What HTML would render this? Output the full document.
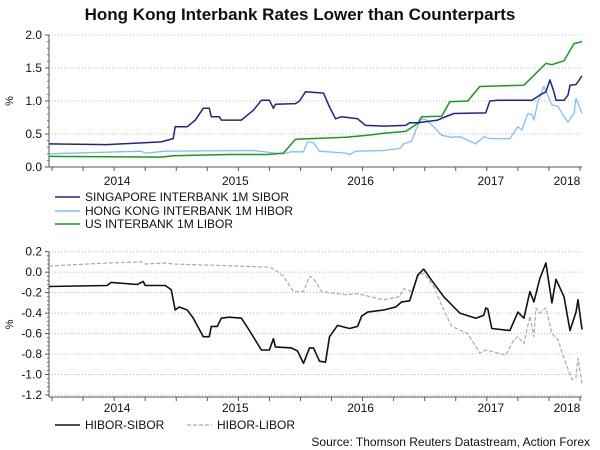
<!DOCTYPE html>
<html><head><meta charset="utf-8"><style>
body{margin:0;background:#fff}
svg{display:block;font-family:"Liberation Sans",Arial,sans-serif}
</style></head><body>
<svg id="c" width="600" height="450" viewBox="0 0 600 450" xmlns="http://www.w3.org/2000/svg">
<text x="300" y="20" text-anchor="middle" font-size="17" font-weight="bold" fill="#111">Hong Kong Interbank Rates Lower than Counterparts</text>
<g id="top"></g>
<g id="bot"></g>
<g font-size="12" fill="#111">
<line x1="55" y1="197" x2="80" y2="197" stroke="#23238e" stroke-width="1.5"/>
<text x="85" y="201">SINGAPORE INTERBANK 1M SIBOR</text>
<line x1="55" y1="211" x2="80" y2="211" stroke="#7fbfff" stroke-width="1.5"/>
<text x="85" y="215">HONG KONG INTERBANK 1M HIBOR</text>
<line x1="55" y1="224" x2="80" y2="224" stroke="#1a9a1a" stroke-width="1.5"/>
<text x="85" y="228">US INTERBANK 1M LIBOR</text>
</g>
<g font-size="12" fill="#111">
<line x1="55" y1="425" x2="80" y2="425" stroke="#111" stroke-width="1.5"/>
<text x="85" y="429">HIBOR-SIBOR</text>
<line x1="187" y1="425" x2="212" y2="425" stroke="#aaa" stroke-width="1.2" stroke-dasharray="4,2"/>
<text x="217" y="429">HIBOR-LIBOR</text>
</g>
<text x="590" y="446" text-anchor="end" font-size="12" fill="#111">Source: Thomson Reuters Datastream, Action Forex</text>
</svg>
<script>
const yearLabels=["2014","2015","2016","2017","2018"];
const yearWeeks=[34,93,155.5,220.5,258.5];
const topTicks=[0,0.5,1.0,1.5,2.0];
const topTickLabels=["0.0","0.5","1.0","1.5","2.0"];
const botTicks=[0.2,0,-0.2,-0.4,-0.6,-0.8,-1.0,-1.2];
const botTickLabels=["0.2","0.0","-0.2","-0.4","-0.6","-0.8","-1.0","-1.2"];
const siborW=[0,29,56,62,63,69,73,77,80,81,85,86,96,102,106,110,112,113,123,125,128,137,140,143,146,154,158,167,178,180,184,194,197,202,218,220,224,241,245,248,250,252,253,257,259,260,263,266];
const siborV=[0.35,0.34,0.38,0.43,0.61,0.61,0.71,0.89,0.89,0.76,0.76,0.71,0.71,0.86,1.01,1.01,0.89,0.95,0.96,1.0,1.14,1.12,0.91,0.73,0.76,0.73,0.63,0.62,0.63,0.67,0.67,0.71,0.75,0.81,0.82,1.0,1.01,1.01,1.09,1.14,1.32,1.14,1.01,1.01,1.09,1.24,1.25,1.38];
const hiborW=[0,46,48,58,102,113,117,121,127,129,132,135,148,150,153,167,175,177,181,183,186,188,192,196,201,205,213,217,220,230,234,236,239,241,242,244,247,251,254,257,259,262,263,266];
const hiborV=[0.2,0.24,0.21,0.24,0.25,0.21,0.2,0.23,0.23,0.38,0.37,0.24,0.21,0.19,0.24,0.25,0.28,0.35,0.39,0.56,0.73,0.72,0.61,0.48,0.45,0.46,0.35,0.46,0.43,0.43,0.61,0.56,0.81,0.79,0.71,0.99,1.22,0.94,0.92,0.76,0.68,0.81,1.04,0.81];
const liborW=[0,56,62,90,109,117,123,148,159,167,178,184,186,196,200,209,215,237,243,248,251,257,262,266];
const liborV=[0.16,0.15,0.17,0.19,0.19,0.21,0.42,0.45,0.48,0.51,0.54,0.66,0.76,0.77,0.99,1.0,1.22,1.24,1.42,1.57,1.55,1.61,1.87,1.9];
const hsW=[0,29,31,44,47,48,58,61,63,65,69,72,77,80,81,84,86,90,96,100,106,110,112,113,121,124,127,130,132,135,138,140,144,150,154,156,159,167,173,176,180,184,187,191,197,202,205,213,217,218,219,221,230,234,237,240,242,245,248,251,253,257,260,263,264,266];
const hsV=[-0.14,-0.13,-0.10,-0.12,-0.09,-0.13,-0.13,-0.17,-0.37,-0.34,-0.37,-0.45,-0.63,-0.63,-0.53,-0.53,-0.45,-0.44,-0.45,-0.57,-0.76,-0.76,-0.65,-0.73,-0.74,-0.77,-0.89,-0.74,-0.74,-0.87,-0.88,-0.63,-0.52,-0.55,-0.53,-0.43,-0.39,-0.37,-0.34,-0.29,-0.28,-0.03,0.03,-0.08,-0.24,-0.34,-0.40,-0.45,-0.42,-0.35,-0.36,-0.55,-0.57,-0.39,-0.45,-0.19,-0.29,-0.06,0.09,-0.30,-0.07,-0.24,-0.57,-0.39,-0.27,-0.56];
const hlW=[0,29,46,48,58,62,110,113,117,122,127,130,132,136,148,154,167,175,177,181,184,187,192,197,201,209,215,218,228,232,234,237,240,242,243,245,248,251,254,257,261,263,264,266];
const hlV=[0.06,0.09,0.10,0.08,0.09,0.08,0.05,0.02,-0.04,-0.19,-0.19,-0.04,-0.06,-0.19,-0.22,-0.21,-0.27,-0.24,-0.16,-0.19,-0.04,-0.01,-0.14,-0.37,-0.53,-0.60,-0.79,-0.76,-0.81,-0.66,-0.63,-0.70,-0.43,-0.63,-0.35,-0.40,-0.35,-0.60,-0.66,-0.84,-1.05,-1.03,-0.84,-1.09];

const NS="http://www.w3.org/2000/svg";
const X0=49,X1=582,WMAX=266;
const xs=w=>X0+(w/WMAX)*(X1-X0);
const topY=v=>167-(v/2)*132;
const botY=v=>251.7+((0.2-v)/1.4)*143.3;
function mk(tag,attrs,parent){const e=document.createElementNS(NS,tag);for(const k in attrs)e.setAttribute(k,attrs[k]);parent.appendChild(e);return e;}
function panel(g,ys,ticks,labels,axisY,topGrid,labelY,name){
  ticks.forEach((t,i)=>{
    const gl=mk('line',{x1:X0,x2:X1,y1:ys(t),y2:ys(t),stroke:'#bbb','stroke-dasharray':'1,2'},g);
    
    
    const tx=mk('text',{x:X0-7,y:ys(t)+4,'text-anchor':'end','font-size':'12',fill:'#111'},g);
    tx.textContent=labels[i];
    
    
    mk('line',{x1:X0-4,x2:X0,y1:ys(t),y2:ys(t),stroke:'#555'},g);
    if(i<ticks.length-1){for(let k=1;k<5;k++){const yy=ys(t)+(ys(ticks[i+1])-ys(t))*k/5;mk('line',{x1:X0-2,x2:X0,y1:yy,y2:yy,stroke:'#777'},g);}}
  });
  const ya=mk('line',{x1:X0,x2:X0,y1:topGrid,y2:axisY,stroke:'#555'},g);
  
  
  const xa=mk('line',{x1:X0,x2:X1,y1:axisY,y2:axisY,stroke:'#555'},g);
  
  
  for(let w=218.5-15.5*14;w<=WMAX;w+=15.5){if(w<0)continue;mk('line',{x1:xs(w),x2:xs(w),y1:axisY,y2:axisY+4,stroke:'#555'},g);}
  yearLabels.forEach((l,i)=>{const t=mk('text',{x:xs(yearWeeks[i]),y:labelY,'text-anchor':'middle','font-size':'12',fill:'#111'},g);t.textContent=l;
    
    });
  const yt=mk('text',{x:13,y:(topGrid+axisY)/2,'text-anchor':'middle','font-size':'11',fill:'#111',transform:`rotate(-90 13 ${(topGrid+axisY)/2})`},g);
  yt.textContent='%';
  
  
}
function line(g,W,V,ys,color,width,dash,name){
  const d=W.map((w,i)=>(i?'L':'M')+xs(w).toFixed(1)+','+ys(V[i]).toFixed(1)).join('');
  const p=mk('path',{d:d,fill:'none',stroke:color,'stroke-width':width,'stroke-linejoin':'round'},g);
  if(dash)p.setAttribute('stroke-dasharray',dash);
  
  
}
const topG=document.getElementById('top'),botG=document.getElementById('bot');
panel(topG,topY,topTicks,topTickLabels,167,35,185,'top');
panel(botG,botY,botTicks,botTickLabels,397,251.7,412,'bottom');
line(topG,hiborW,hiborV,topY,'#7fbfff',1.3,null,'hibor-line');
line(topG,liborW,liborV,topY,'#1a9a1a',1.5,null,'libor-line');
line(topG,siborW,siborV,topY,'#23238e',1.5,null,'sibor-line');
line(botG,hlW,hlV,botY,'#aaa',1.2,'4,2','hibor-libor-line');
line(botG,hsW,hsV,botY,'#111',1.6,null,'hibor-sibor-line');
</script>
</body></html>
